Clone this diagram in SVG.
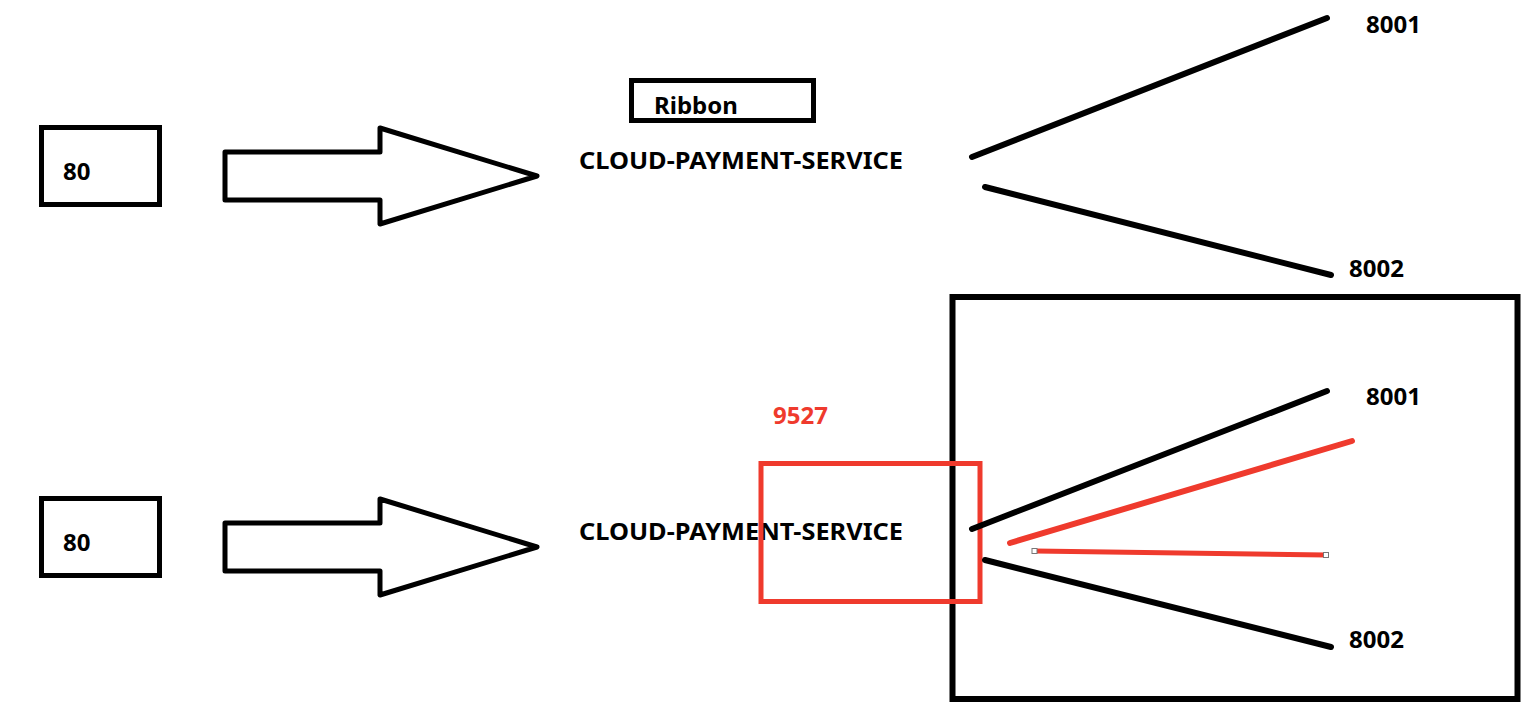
<svg xmlns="http://www.w3.org/2000/svg" width="1539" height="716" viewBox="0 0 1539 716">
<style>
.box{fill:none;stroke:#000;stroke-width:5}
.arrow{fill:#fff;stroke:#000;stroke-width:5;stroke-linejoin:round}
.ln{stroke:#000;stroke-width:6;stroke-linecap:round}
.rl{stroke:#ef3a2d;stroke-width:6;stroke-linecap:round}
.t{font-family:"Noto Sans","Open Sans",sans-serif;font-weight:bold;font-size:24px;fill:#000}
.red{fill:#ef3a2d}
.h{fill:#fff;stroke:#777;stroke-width:1}
</style>
<rect width="1539" height="716" fill="#fff"/>
<g id="client-top">
<rect class="box" x="41.5" y="127.5" width="118" height="77"/>
<text class="t" x="63" y="180">80</text>
</g>
<g id="arrow-top">
<polygon class="arrow" points="225,152 380,152 380,128 537,176 380,224 380,200 225,200"/>
</g>
<g id="ribbon">
<rect class="box" x="631.5" y="80.5" width="182" height="40"/>
<text class="t" x="654" y="114">Ribbon</text>
</g>
<g id="service-top">
<text class="t" x="579" y="169" textLength="324" lengthAdjust="spacingAndGlyphs">CLOUD-PAYMENT-SERVICE</text>
</g>
<g id="p8001-top"><text class="t" x="1366" y="33">8001</text></g>
<g id="p8002-top"><text class="t" x="1349" y="277">8002</text></g>
<g id="client-bottom">
<rect class="box" x="41.5" y="498.5" width="118" height="77"/>
<text class="t" x="63" y="551">80</text>
</g>
<g id="arrow-bottom">
<polygon class="arrow" points="225,523 380,523 380,499 537,547 380,595 380,571 225,571"/>
</g>
<g id="cluster">
<rect x="952.5" y="297" width="565" height="402" fill="none" stroke="#000" stroke-width="6"/>
</g>
<g id="service-bottom">
<text class="t" x="579" y="540" textLength="324" lengthAdjust="spacingAndGlyphs">CLOUD-PAYMENT-SERVICE</text>
</g>
<g id="gateway">
<text class="t red" x="773" y="424">9527</text>
<rect x="761" y="463.5" width="219" height="138" fill="none" stroke="#ef3a2d" stroke-width="5"/>
</g>
<g id="p8001-bottom"><text class="t" x="1366" y="405">8001</text></g>
<g id="p8002-bottom"><text class="t" x="1349" y="648">8002</text></g>
<g id="connectors">
<line class="ln" x1="972" y1="157" x2="1327" y2="18"/>
<line class="ln" x1="985" y1="187" x2="1331" y2="275"/>
<line class="ln" x1="972" y1="529" x2="1327" y2="391"/>
<line class="ln" x1="985" y1="560" x2="1331" y2="647"/>
<line class="rl" x1="1010" y1="543" x2="1352" y2="441"/>
<line x1="1035" y1="551" x2="1326" y2="555" stroke="#ef3a2d" stroke-width="5"/>
<rect class="h" x="1032" y="548.5" width="5" height="5"/>
<rect class="h" x="1323.5" y="552.5" width="5" height="5"/>
</g>
</svg>
